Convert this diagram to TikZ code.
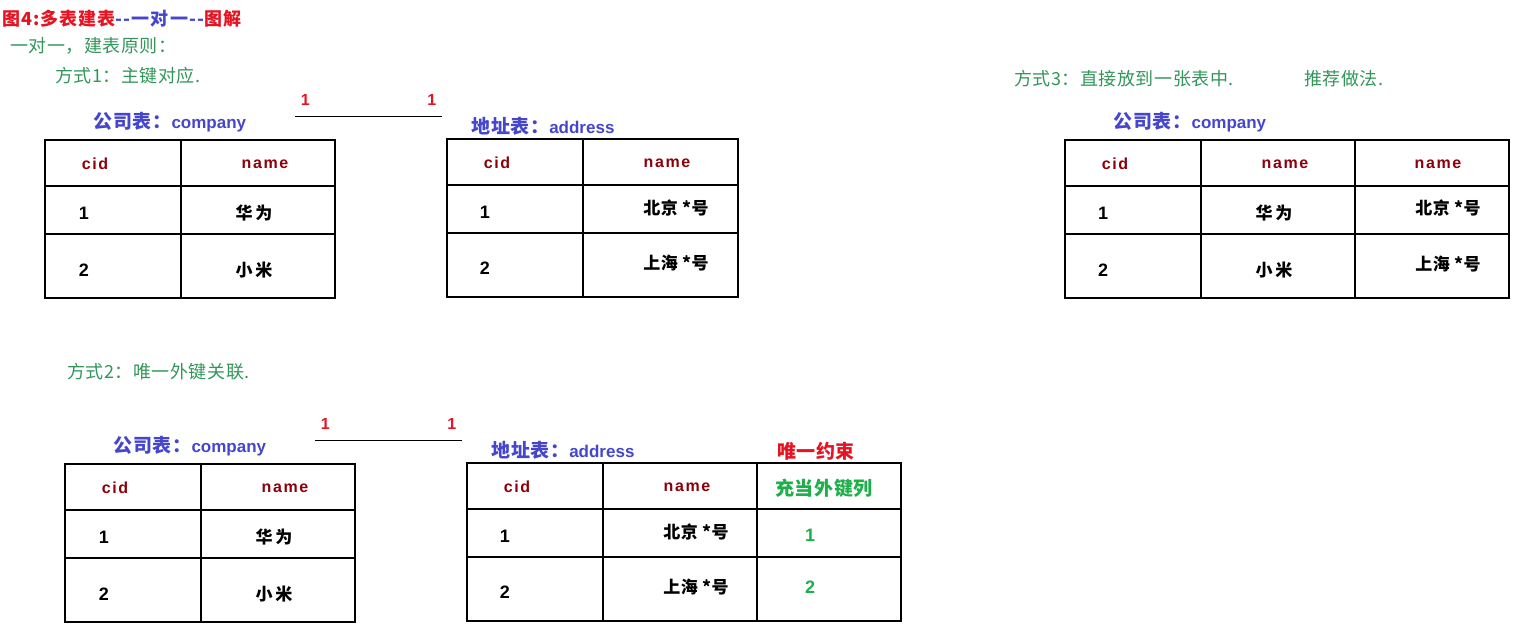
\documentclass[tikz,border=0pt]{standalone}
\usepackage{fontspec}
\setmainfont{Liberation Sans}
\newfontfamily\cjk{Noto Sans CJK SC}
\newfontfamily\cjkwide[LetterSpace=6]{Noto Sans CJK SC}
\newfontfamily\cjknote[LetterSpace=3]{Noto Sans CJK SC}
\newfontfamily\lat[LetterSpace=10]{Liberation Sans}
\newcommand\en[1]{{\rmfamily\bfseries\fontsize{17}{20}\selectfont #1}}
\definecolor{titlered}{RGB}{230,20,35}
\definecolor{tabblue}{RGB}{70,70,205}
\definecolor{headred}{RGB}{140,0,10}
\definecolor{notegreen}{RGB}{50,150,90}
\definecolor{keygreen}{RGB}{30,175,75}
\begin{document}
\begin{tikzpicture}[x=1pt, y=-1pt,
    tab/.style={line width=1.4pt},
    title/.style={anchor=west, inner sep=0pt, font=\cjkwide\bfseries\fontsize{18}{21}\selectfont},
    note/.style={anchor=west, inner sep=0pt, text=notegreen, font=\cjknote\fontsize{18}{21}\selectfont},
    tabname/.style={inner sep=0pt, text=tabblue, font=\cjknote\bfseries\fontsize{19}{22}\selectfont},
    head/.style={inner sep=0pt, text=headred, font=\lat\bfseries\fontsize{16}{19}\selectfont},
    cell/.style={inner sep=0pt, font=\bfseries\fontsize{18}{21}\selectfont},
    ccell/.style={inner sep=0pt, font=\cjknote\bfseries\fontsize{17}{20}\selectfont},
    one/.style={text=titlered, font=\bfseries\fontsize{16}{19}\selectfont}]

  \useasboundingbox (0,0) rectangle (1527,630);

  % titles and notes
  \node[title] (title) at (2,19) {{\color{titlered}图4:多表建表}{\color{tabblue}--一对一--}{\color{titlered}图解}};
  \node[note] (rule) at (10,46) {一对一，建表原则：};
  \node[note] (way1) at (55,76) {方式1：主键对应.};
  \node[note] (way2) at (67,372) {方式2：唯一外键关联.};
  \node[note] (way3) at (1014,79) {方式3：直接放到一张表中.};
  \node[note] (best) at (1304,79) {推荐做法.};

  % way 1
  \node[tabname] (comp1) at (170,122) {公司表：\en{company}};
  \node[tabname] (addr1) at (543,126) {地址表：\en{address}};
  \coordinate (l1) at (295,116);
  \coordinate (r1) at (442,116);
  \path[tab, line width=1pt] (l1) edge node[one, pos=0.07, above=7pt] {1} node[one, pos=0.93, above=7pt] {1} (r1);

  \draw[tab] (45,140) rectangle (335,298) (181,140) -- (181,298)
             (45,186) -- (335,186) (45,234) -- (335,234);
  \node[head] (c1cid) at (95,164) {cid};
  \node[head] (c1name) at (265,164) {name};
  \node[cell] (c1a) at (84,213) {1};
  \node[ccell] (c1b) at (254,213) {华\,为};
  \node[cell] (c1c) at (84,270) {2};
  \node[ccell] (c1d) at (254,270) {小\,米};

  \draw[tab] (447,139) rectangle (738,297) (583,139) -- (583,297)
             (447,185) -- (738,185) (447,233) -- (738,233);
  \node[head] (a1cid) at (497,163) {cid};
  \node[head] (a1name) at (667,163) {name};
  \node[cell] (a1a) at (485,212) {1};
  \node[ccell] (a1b) at (676,208) {北京 *号};
  \node[cell] (a1c) at (485,268) {2};
  \node[ccell] (a1d) at (676,263) {上海 *号};

  % way 2
  \node[tabname] (comp2) at (190,446) {公司表：\en{company}};
  \node[tabname] (addr2) at (563,450) {地址表：\en{address}};
  \node[tabname, text=titlered] (uniq) at (816,451) {唯一约束};
  \coordinate (l2) at (315,440);
  \coordinate (r2) at (462,440);
  \path[tab, line width=1pt] (l2) edge node[one, pos=0.07, above=7pt] {1} node[one, pos=0.93, above=7pt] {1} (r2);

  \draw[tab] (65,464) rectangle (355,622) (201,464) -- (201,622)
             (65,510) -- (355,510) (65,558) -- (355,558);
  \node[head] (c2cid) at (115,488) {cid};
  \node[head] (c2name) at (285,488) {name};
  \node[cell] (c2a) at (104,537) {1};
  \node[ccell] (c2b) at (274,537) {华\,为};
  \node[cell] (c2c) at (104,594) {2};
  \node[ccell] (c2d) at (274,594) {小\,米};

  \draw[tab] (467,463) rectangle (901,621) (603,463) -- (603,621) (757,463) -- (757,621)
             (467,509) -- (901,509) (467,557) -- (901,557);
  \node[head] (a2cid) at (517,487) {cid};
  \node[head] (a2name) at (687,487) {name};
  \node[tabname, text=keygreen] (a2key) at (824,488) {充当外键列};
  \node[cell] (a2a) at (505,536) {1};
  \node[ccell] (a2b) at (696,532) {北京 *号};
  \node[cell, text=keygreen] (a2e) at (810,535) {1};
  \node[cell] (a2c) at (505,592) {2};
  \node[ccell] (a2d) at (696,587) {上海 *号};
  \node[cell, text=keygreen] (a2f) at (810,587) {2};

  % way 3
  \node[tabname] (comp3) at (1190,122) {公司表：\en{company}};
  \draw[tab] (1065,140) rectangle (1509,298) (1201,140) -- (1201,298) (1355,140) -- (1355,298)
             (1065,186) -- (1509,186) (1065,234) -- (1509,234);
  \node[head] (c3cid) at (1115,164) {cid};
  \node[head] (c3name) at (1285,164) {name};
  \node[head] (c3addr) at (1438,164) {name};
  \node[cell] (c3a) at (1103,213) {1};
  \node[ccell] (c3b) at (1274,213) {华\,为};
  \node[ccell] (c3e) at (1448,208) {北京 *号};
  \node[cell] (c3c) at (1103,270) {2};
  \node[ccell] (c3d) at (1274,270) {小\,米};
  \node[ccell] (c3f) at (1448,264) {上海 *号};

\end{tikzpicture}
\end{document}
